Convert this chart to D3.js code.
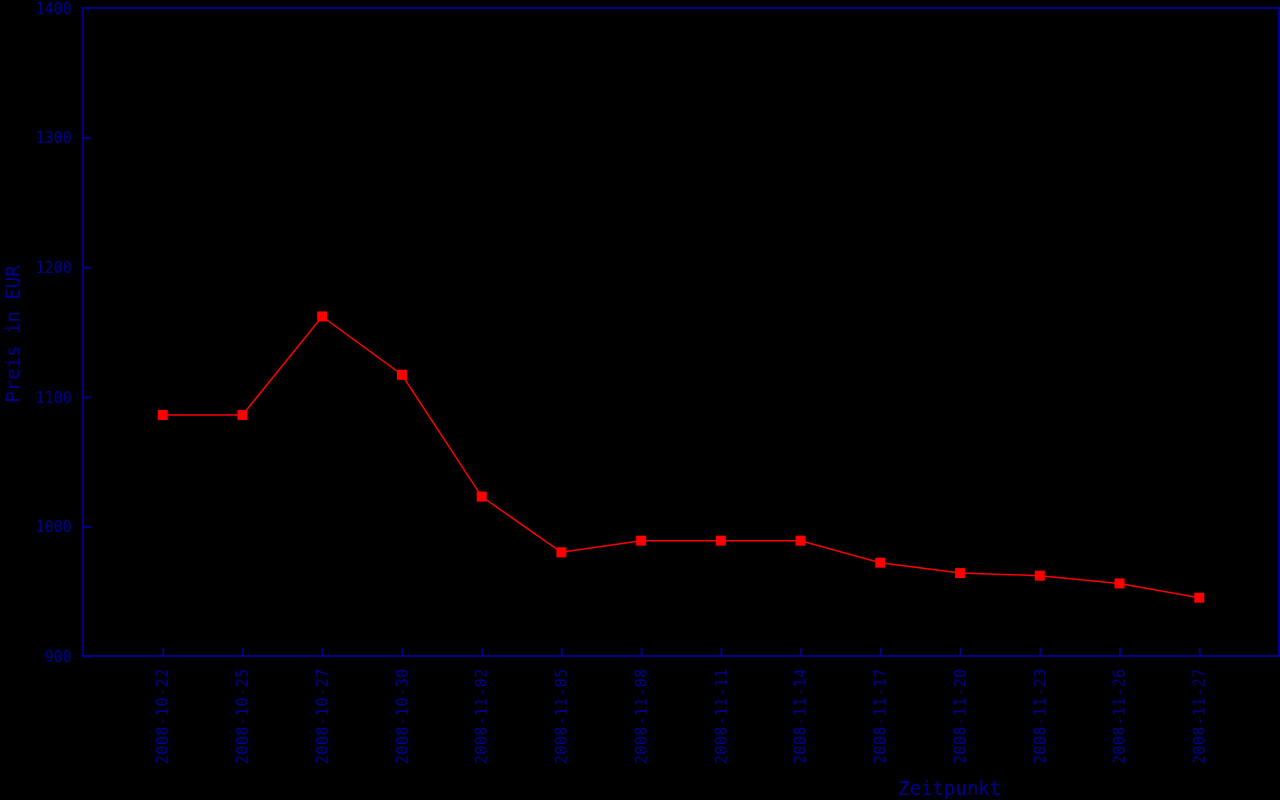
<html>
<head>
  <style>
    body { margin: 0; background: #000; }
    text { font-family: "DejaVu Sans Mono", monospace; fill: #00008b; }
  </style>
</head>
<body>
<div id="chartContainer"></div>
<script src="https://cdn.jsdelivr.net/npm/d3@7"></script>
<script>
  // Preis pro Zeitpunkt
  var dates = ["2008-10-22", "2008-10-25", "2008-10-27", "2008-10-30", "2008-11-02",
    "2008-11-05", "2008-11-08", "2008-11-11", "2008-11-14", "2008-11-17",
    "2008-11-20", "2008-11-23", "2008-11-26", "2008-11-27"];
  var prices = [1086, 1086, 1162, 1117, 1023, 980, 989, 989, 989, 972, 964, 962, 956, 945];
  var yTicks = [900, 1000, 1100, 1200, 1300, 1400];

  var width = 1280, height = 800;
  // plot frame (note: "top" is taken by window.top, so use other names)
  var plotLeft = 83, plotRight = 1279, plotTop = 8, plotBottom = 656;
  var navy = "#00008b";

  var svg = d3.select("#chartContainer").append("svg")
    .attr("width", width).attr("height", height)
    .style("display", "block");

  var x = d3.scalePoint().domain(dates).range([plotLeft, plotRight]).padding(1);
  var y = d3.scaleLinear().domain([900, 1400]).range([plotBottom, plotTop]);

  // frame
  svg.append("rect")
    .attr("x", plotLeft).attr("y", plotTop)
    .attr("width", plotRight - plotLeft).attr("height", plotBottom - plotTop)
    .attr("fill", "none").attr("stroke", navy).attr("stroke-width", 2);

  // y axis, ticks pointing inward
  var yAxis = svg.append("g")
    .attr("transform", "translate(" + plotLeft + ",0)")
    .call(d3.axisRight(y).tickValues(yTicks).tickSize(8).tickFormat(d3.format("d")));
  yAxis.select(".domain").remove();
  yAxis.selectAll("line").attr("stroke", navy).attr("stroke-width", 2);
  yAxis.selectAll("text")
    .attr("x", -11).attr("dy", "0.35em")
    .attr("text-anchor", "end")
    .style("font-size", "15px")
    .attr("fill", navy);

  // x axis, ticks pointing up
  var xAxis = svg.append("g")
    .attr("transform", "translate(0," + plotBottom + ")")
    .call(d3.axisTop(x).tickSize(8));
  xAxis.select(".domain").remove();
  xAxis.selectAll("line").attr("stroke", navy).attr("stroke-width", 2);
  xAxis.selectAll("text")
    .attr("transform", "rotate(-90)")
    .attr("x", -12).attr("y", 0).attr("dy", "0.35em")
    .attr("text-anchor", "end")
    .style("font-size", "15px")
    .style("letter-spacing", "0.6px")
    .attr("fill", navy);

  // axis titles
  svg.append("text")
    .attr("x", 950).attr("y", 795)
    .attr("text-anchor", "middle")
    .style("font-size", "19px")
    .text("Zeitpunkt");

  svg.append("text")
    .attr("transform", "translate(20,334) rotate(-90)")
    .attr("text-anchor", "middle")
    .style("font-size", "19px")
    .text("Preis in EUR");

  // line + square markers
  var line = d3.line()
    .x(function (d, i) { return x(dates[i]); })
    .y(function (d) { return y(d); });

  svg.append("path")
    .datum(prices)
    .attr("d", line)
    .attr("fill", "none")
    .attr("stroke", "#ff0000")
    .attr("stroke-width", 1.5);

  svg.selectAll("rect.pt")
    .data(prices)
    .enter()
    .append("rect")
      .attr("class", "pt")
      .attr("x", function (d, i) { return x(dates[i]) - 5; })
      .attr("y", function (d) { return y(d) - 5; })
      .attr("width", 10).attr("height", 10)
      .attr("fill", "#ff0000");
</script>
</body>
</html>
